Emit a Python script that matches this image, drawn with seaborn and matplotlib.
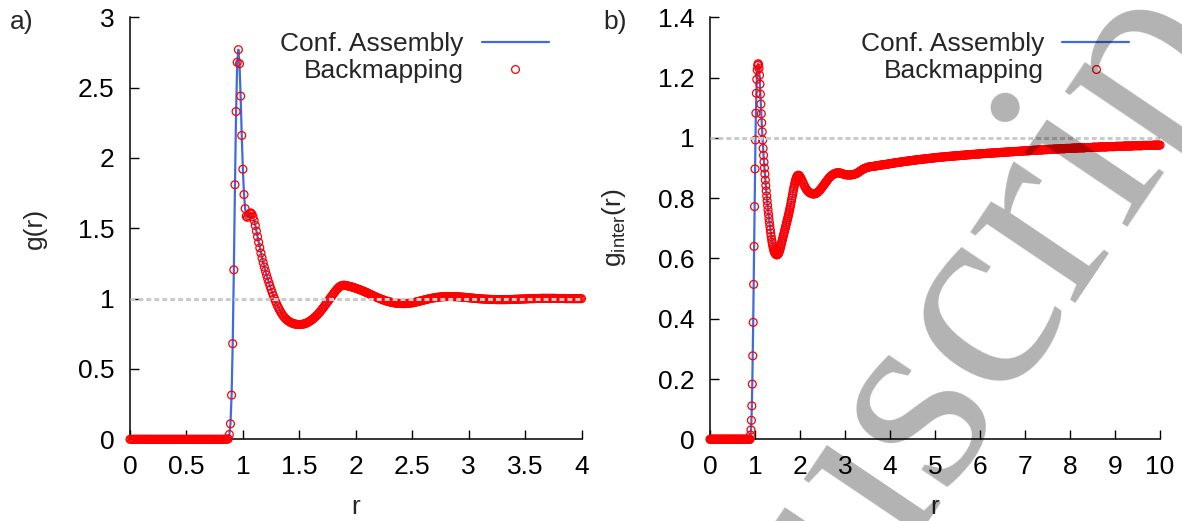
import numpy as np
import pandas as pd
import matplotlib
matplotlib.use("Agg")
import matplotlib.pyplot as plt
import seaborn as sns
from matplotlib.lines import Line2D
from matplotlib.ticker import FuncFormatter

# ---------------------------------------------------------------- data
# (a) total g(r), sampled every 0.01 from r = 0 to r = 4
g_total = [0.0] * 87 + [
    0.004, 0.034, 0.110,
    0.314, 0.680, 1.205, 1.810, 2.330, 2.680, 2.770, 2.670, 2.440, 2.160,
    1.920, 1.740, 1.640, 1.585, 1.578, 1.590, 1.605, 1.610, 1.600, 1.582,
    1.555, 1.520, 1.480, 1.440, 1.400, 1.361, 1.324, 1.289, 1.256, 1.225,
    1.196, 1.168, 1.141, 1.115, 1.090, 1.066, 1.043, 1.021, 1.000, 0.980,
    0.961, 0.943, 0.927, 0.912, 0.898, 0.886, 0.875, 0.865, 0.856, 0.849,
    0.843, 0.837, 0.832, 0.828, 0.825, 0.822, 0.820, 0.818, 0.817, 0.816,
    0.816, 0.816, 0.817, 0.818, 0.820, 0.822, 0.825, 0.829, 0.833, 0.838,
    0.843, 0.849, 0.855, 0.862, 0.869, 0.877, 0.885, 0.894, 0.903, 0.913,
    0.923, 0.933, 0.944, 0.955, 0.966, 0.977, 0.988, 0.999, 1.010, 1.021,
    1.032, 1.043, 1.053, 1.063, 1.072, 1.080, 1.086, 1.091, 1.094, 1.095,
    1.095, 1.094, 1.092, 1.090, 1.088, 1.086, 1.084, 1.082, 1.079, 1.077,
    1.074, 1.071, 1.068, 1.065, 1.062, 1.059, 1.056, 1.052, 1.049, 1.045,
    1.042, 1.038, 1.034, 1.030, 1.027, 1.023, 1.019, 1.015, 1.012, 1.008,
    1.005, 1.001, 0.998, 0.995, 0.992, 0.989, 0.986, 0.984, 0.981, 0.979,
    0.977, 0.975, 0.973, 0.972, 0.970, 0.969, 0.968, 0.967, 0.966, 0.966,
    0.965, 0.965, 0.965, 0.965, 0.965, 0.966, 0.966, 0.967, 0.968, 0.969,
    0.970, 0.972, 0.973, 0.975, 0.977, 0.979, 0.981, 0.983, 0.985, 0.987,
    0.989, 0.991, 0.993, 0.995, 0.997, 0.999, 1.001, 1.002, 1.004, 1.005,
    1.007, 1.008, 1.009, 1.010, 1.011, 1.012, 1.013, 1.013, 1.014, 1.014,
    1.015, 1.015, 1.015, 1.015, 1.015, 1.015, 1.015, 1.014, 1.014, 1.014,
    1.013, 1.013, 1.012, 1.012, 1.011, 1.010, 1.010, 1.009, 1.008, 1.007,
    1.006, 1.006, 1.005, 1.004, 1.003, 1.003, 1.002, 1.001, 1.000, 1.000,
    0.999, 0.998, 0.998, 0.997, 0.997, 0.996, 0.996, 0.995, 0.995, 0.995,
    0.994, 0.994, 0.994, 0.994, 0.993, 0.993, 0.993, 0.993, 0.993, 0.993,
    0.993, 0.993, 0.993, 0.993, 0.993, 0.994, 0.994, 0.994, 0.994, 0.994,
    0.995, 0.995, 0.995, 0.996, 0.996, 0.996, 0.997, 0.997, 0.997, 0.998,
    0.998, 0.998, 0.999, 0.999, 0.999, 1.000, 1.000, 1.000, 1.000, 1.001,
    1.001, 1.001, 1.001, 1.001, 1.002, 1.002, 1.002, 1.002, 1.002, 1.002,
    1.002, 1.002, 1.002, 1.002, 1.002, 1.002, 1.002, 1.002, 1.001, 1.001,
    1.001, 1.001, 1.001, 1.001, 1.001, 1.001, 1.000, 1.000, 1.000, 1.000,
    1.000, 1.000, 1.000, 1.000, 1.000, 1.000, 1.000, 1.000, 1.000, 1.000,
    1.000,
]
r_total = 0.01 * np.arange(len(g_total))

# (b) intermolecular g(r): every 0.01 up to r = 2, then every 0.02 up to r = 10
g_inter_near = [0.0] * 90 + [
    0.014, 0.031, 0.063, 0.111, 0.183, 0.277, 0.388, 0.514, 0.640, 0.772,
    0.897, 0.993, 1.082, 1.148, 1.194, 1.225, 1.240, 1.246, 1.243, 1.230,
    1.208, 1.178, 1.145, 1.112, 1.080, 1.050, 1.020, 0.993, 0.965, 0.942,
    0.920, 0.900, 0.880, 0.860, 0.842, 0.824, 0.807, 0.791, 0.776, 0.761,
    0.747, 0.733, 0.720, 0.707, 0.695, 0.684, 0.673, 0.663, 0.654, 0.646,
    0.638, 0.632, 0.626, 0.622, 0.619, 0.616, 0.614, 0.613, 0.612, 0.612,
    0.613, 0.614, 0.616, 0.619, 0.623, 0.628, 0.633, 0.639, 0.645, 0.651,
    0.657, 0.663, 0.669, 0.675, 0.681, 0.687, 0.693, 0.699, 0.705, 0.711,
    0.717, 0.723, 0.729, 0.735, 0.741, 0.748, 0.755, 0.762, 0.769, 0.776,
    0.784, 0.792, 0.800, 0.808, 0.816, 0.824, 0.832, 0.839, 0.846, 0.852,
    0.858, 0.863, 0.867, 0.871, 0.873, 0.875, 0.876, 0.876, 0.875, 0.873,
    0.871,
]
g_inter_far = [
    0.866, 0.860, 0.854, 0.847, 0.841, 0.835, 0.830, 0.826, 0.822, 0.820,
    0.818, 0.816, 0.815, 0.814, 0.814, 0.814, 0.815, 0.816, 0.818, 0.820,
    0.823, 0.826, 0.830, 0.834, 0.838, 0.842, 0.846, 0.850, 0.854, 0.858,
    0.862, 0.866, 0.869, 0.872, 0.875, 0.877, 0.879, 0.881, 0.882, 0.883,
    0.884, 0.884, 0.884, 0.884, 0.883, 0.882, 0.881, 0.880, 0.879, 0.878,
    0.878, 0.877, 0.877, 0.877, 0.877, 0.877, 0.877, 0.878, 0.878, 0.879,
    0.880, 0.881, 0.882, 0.884, 0.886, 0.888, 0.890, 0.892, 0.894, 0.896,
    0.898, 0.899, 0.900, 0.901, 0.902, 0.903, 0.904, 0.904, 0.905, 0.905,
    0.905, 0.906, 0.906, 0.907, 0.907, 0.908, 0.908, 0.909, 0.909, 0.910,
    0.910, 0.911, 0.911, 0.911, 0.912, 0.912, 0.913, 0.913, 0.914, 0.914,
    0.915, 0.915, 0.916, 0.916, 0.917, 0.917, 0.918, 0.918, 0.919, 0.919,
    0.919, 0.920, 0.920, 0.921, 0.921, 0.922, 0.922, 0.922, 0.923, 0.923,
    0.924, 0.924, 0.924, 0.925, 0.925, 0.926, 0.926, 0.926, 0.927, 0.927,
    0.928, 0.928, 0.928, 0.929, 0.929, 0.929, 0.930, 0.930, 0.930, 0.931,
    0.931, 0.931, 0.932, 0.932, 0.932, 0.933, 0.933, 0.933, 0.934, 0.934,
    0.934, 0.935, 0.935, 0.935, 0.936, 0.936, 0.936, 0.936, 0.937, 0.937,
    0.937, 0.938, 0.938, 0.938, 0.938, 0.939, 0.939, 0.939, 0.939, 0.940,
    0.940, 0.940, 0.940, 0.941, 0.941, 0.941, 0.941, 0.942, 0.942, 0.942,
    0.942, 0.943, 0.943, 0.943, 0.943, 0.944, 0.944, 0.944, 0.944, 0.945,
    0.945, 0.945, 0.945, 0.945, 0.946, 0.946, 0.946, 0.946, 0.947, 0.947,
    0.947, 0.947, 0.948, 0.948, 0.948, 0.948, 0.948, 0.949, 0.949, 0.949,
    0.949, 0.949, 0.950, 0.950, 0.950, 0.950, 0.950, 0.951, 0.951, 0.951,
    0.951, 0.951, 0.952, 0.952, 0.952, 0.952, 0.952, 0.953, 0.953, 0.953,
    0.953, 0.953, 0.954, 0.954, 0.954, 0.954, 0.954, 0.955, 0.955, 0.955,
    0.955, 0.955, 0.955, 0.956, 0.956, 0.956, 0.956, 0.956, 0.957, 0.957,
    0.957, 0.957, 0.957, 0.958, 0.958, 0.958, 0.958, 0.958, 0.959, 0.959,
    0.959, 0.959, 0.959, 0.959, 0.960, 0.960, 0.960, 0.960, 0.960, 0.960,
    0.961, 0.961, 0.961, 0.961, 0.961, 0.962, 0.962, 0.962, 0.962, 0.962,
    0.962, 0.963, 0.963, 0.963, 0.963, 0.963, 0.963, 0.964, 0.964, 0.964,
    0.964, 0.964, 0.964, 0.964, 0.965, 0.965, 0.965, 0.965, 0.965, 0.965,
    0.965, 0.966, 0.966, 0.966, 0.966, 0.966, 0.966, 0.966, 0.967, 0.967,
    0.967, 0.967, 0.967, 0.967, 0.967, 0.967, 0.968, 0.968, 0.968, 0.968,
    0.968, 0.968, 0.968, 0.968, 0.969, 0.969, 0.969, 0.969, 0.969, 0.969,
    0.969, 0.969, 0.970, 0.970, 0.970, 0.970, 0.970, 0.970, 0.970, 0.970,
    0.970, 0.971, 0.971, 0.971, 0.971, 0.971, 0.971, 0.971, 0.971, 0.971,
    0.972, 0.972, 0.972, 0.972, 0.972, 0.972, 0.972, 0.972, 0.972, 0.973,
    0.973, 0.973, 0.973, 0.973, 0.973, 0.973, 0.973, 0.973, 0.973, 0.974,
    0.974, 0.974, 0.974, 0.974, 0.974, 0.974, 0.974, 0.974, 0.974, 0.974,
    0.975, 0.975, 0.975, 0.975, 0.975, 0.975, 0.975, 0.975, 0.975, 0.975,
    0.975, 0.975, 0.976, 0.976, 0.976, 0.976, 0.976, 0.976, 0.976, 0.976,
]
g_inter = g_inter_near + g_inter_far
r_inter = np.concatenate([
    0.01 * np.arange(len(g_inter_near)),
    2.0 + 0.02 * np.arange(1, len(g_inter_far) + 1),
])

series_labels = ["Conf. Assembly", "Backmapping"]
panel_tags = ["a)", "b)"]
y_titles = ["g(r)", r"g$_{\mathregular{inter}}$(r)"]
x_title = "r"
x_ticks_a = [0, 0.5, 1, 1.5, 2, 2.5, 3, 3.5, 4]
y_ticks_a = [0, 0.5, 1, 1.5, 2, 2.5, 3]
x_ticks_b = [0, 1, 2, 3, 4, 5, 6, 7, 8, 9, 10]
y_ticks_b = [0, 0.2, 0.4, 0.6, 0.8, 1.0, 1.2, 1.4]
stamp_word = "Manuscript"

# --------------------------------------------------------------- style
sns.set_style("ticks")
plt.rcParams["font.family"] = ["Liberation Sans", "DejaVu Sans"]
plt.rcParams["mathtext.fontset"] = "custom"
plt.rcParams["mathtext.rm"] = "Liberation Sans"
plt.rcParams["mathtext.it"] = "Liberation Sans:italic"

BLUE = "#4169e1"
RED = "#ff0000"
REF_GRAY = "#cbcbcb"
FS = 19

W, H = 1182, 521
fig = plt.figure(figsize=(W / 100, H / 100), dpi=100)
fig.patch.set_facecolor("white")


def px_axes(x0, x1, y_top, y_bot):
    return [x0 / W, 1 - y_bot / H, (x1 - x0) / W, (y_bot - y_top) / H]


ax_a = fig.add_axes(px_axes(130, 581.5, 17.3, 439.3))
ax_b = fig.add_axes(px_axes(710, 1160, 17.3, 439.3))

fmt = FuncFormatter(lambda v, _: f"{v:g}")


def draw_panel(ax, r, g, xlim, ylim, xticks, yticks, ytitle, tag, tag_x,
               ylabel_x, legend_x):
    df = pd.DataFrame({"r": r, "g": g})
    sns.lineplot(data=df, x="r", y="g", ax=ax, color=BLUE, linewidth=1.6,
                 estimator=None, sort=False, errorbar=None, zorder=2)
    sns.scatterplot(data=df, x="r", y="g", ax=ax, marker="o", s=32,
                    facecolor="none", edgecolor=RED, linewidth=0.9,
                    zorder=3, clip_on=False)
    ax.axhline(1.0, color=REF_GRAY, linewidth=2.2,
               linestyle=(0, (1.6, 1.0)), zorder=4)

    ax.set_xlim(*xlim)
    ax.set_ylim(*ylim)
    ax.set_xticks(xticks)
    ax.set_yticks(yticks)
    ax.xaxis.set_major_formatter(fmt)
    ax.yaxis.set_major_formatter(fmt)
    sns.despine(ax=ax)
    for side in ("left", "bottom"):
        ax.spines[side].set_linewidth(1.1)
        ax.spines[side].set_color("black")
    ax.tick_params(axis="both", direction="in", length=6.5, width=1.0,
                   color="black", labelsize=FS, labelcolor="black")
    ax.tick_params(axis="y", pad=11)
    ax.tick_params(axis="x", pad=11.5)

    ax.set_xlabel(x_title, fontsize=FS)
    ax.set_ylabel(ytitle, fontsize=FS)
    ax.xaxis.set_label_coords(0.5, -0.133)
    ax.yaxis.set_label_coords(ylabel_x, 0.5)

    handles = [
        Line2D([], [], color=BLUE, linewidth=1.6),
        Line2D([], [], linestyle="none", marker="o", markersize=5.6,
               markerfacecolor="none", markeredgecolor=RED,
               markeredgewidth=0.9),
    ]
    ax.legend(handles, series_labels, loc="upper right",
              bbox_to_anchor=(legend_x, 0.964), frameon=False,
              markerfirst=False, fontsize=FS, handlelength=2.55,
              handletextpad=0.68, labelspacing=0.1, borderpad=0,
              borderaxespad=0)

    fig.text(tag_x / W, 1 - 29 / H, tag, fontsize=FS, va="baseline",
             ha="left")


draw_panel(ax_a, r_total, g_total, (0, 4), (0, 3), x_ticks_a, y_ticks_a,
           y_titles[0], panel_tags[0], 10, -0.184, 0.928)
draw_panel(ax_b, r_inter, g_inter, (0, 10), (0, 1.4), x_ticks_b, y_ticks_b,
           y_titles[1], panel_tags[1], 603, -0.182, 0.932)

# diagonal stamp across the right panel
fig.text(877 / W, 1 - 467 / H, stamp_word, fontsize=199,
         family="Liberation Serif", color="black", alpha=0.3,
         rotation=56, rotation_mode="anchor", ha="center", va="center",
         zorder=10)

fig.savefig("out.png", dpi=100, facecolor="white")
